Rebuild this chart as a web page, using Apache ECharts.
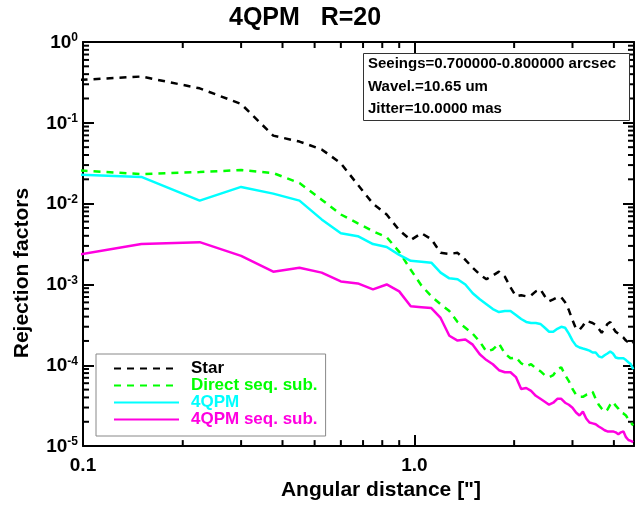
<!DOCTYPE html>
<html>
<head>
<meta charset="utf-8">
<script src="https://cdn.jsdelivr.net/npm/echarts@6/dist/echarts.min.js"></script>
<style>html,body{margin:0;padding:0;background:#fff;}#c{width:636px;height:506px;}</style>
</head>
<body>
<div id="c"></div>
<script>
// ---- data ----
const xVals = [0.075,0.15,0.225,0.3,0.375,0.45,0.525,0.6,0.675,0.75,0.825,0.9,0.975,1.05,1.125,1.2,1.275,1.35,1.425,1.5,1.575,1.65,1.725,1.8,1.875,1.95,2.025,2.1,2.175,2.25,2.325,2.4,2.475,2.55,2.625,2.7,2.775,2.85,2.925,3.0,3.075,3.15,3.225,3.3,3.375,3.45,3.525,3.6,3.675,3.75,3.825,3.9,3.975,4.05,4.125,4.2,4.275,4.35,4.425,4.5,4.575];
const star = [0.32,0.374,0.267,0.171,0.0694,0.0586,0.0469,0.0316,0.0171,0.0100,0.00734,0.00469,0.00354,0.00431,0.00364,0.00246,0.00239,0.00246,0.00202,0.00161,0.00133,0.00116,0.00129,0.00144,0.00125,0.000919,0.000714,0.000734,0.000714,0.000734,0.000821,0.000869,0.000714,0.00062,0.000656,0.000694,0.000694,0.000603,0.000482,0.000364,0.000283,0.000275,0.000308,0.000354,0.000344,0.000334,0.000316,0.000283,0.000253,0.000283,0.000325,0.000344,0.000291,0.00026,0.000246,0.000232,0.00022,0.000202,0.000191,0.00018,0.000191];
const directSeq = [0.0275,0.0232,0.0246,0.026,0.0239,0.018,0.0112,0.00734,0.0057,0.00456,0.00385,0.00253,0.00152,0.000972,0.000714,0.00057,0.000469,0.000344,0.000291,0.000246,0.000196,0.000148,0.000157,0.000186,0.00014,0.000122,0.000125,0.000106,0.0000972,0.000103,0.0000919,0.0000845,0.0000755,0.0000714,0.0000755,0.0000894,0.0000945,0.0000755,0.0000638,0.000051,0.0000431,0.0000407,0.0000407,0.0000431,0.0000443,0.0000469,0.0000385,0.0000325,0.0000291,0.0000267,0.0000283,0.0000325,0.0000354,0.0000316,0.0000291,0.000026,0.0000253,0.0000239,0.0000214,0.0000196,0.000018];
const qpm = [0.0236,0.0214,0.0109,0.0161,0.0133,0.0109,0.00638,0.00431,0.00396,0.00316,0.00291,0.00232,0.00196,0.00191,0.00186,0.0014,0.00119,0.00116,0.001,0.000777,0.000656,0.00057,0.000496,0.000456,0.000469,0.000469,0.000419,0.000374,0.000344,0.000334,0.000334,0.000325,0.000291,0.00026,0.00026,0.000283,0.000299,0.000291,0.000246,0.000202,0.000175,0.000166,0.000161,0.000157,0.000152,0.000144,0.000144,0.000129,0.000125,0.000133,0.00014,0.000148,0.00014,0.000125,0.000122,0.000122,0.000122,0.000116,0.000109,0.000103,0.0000894];
const qpmSeq = [0.00196,0.00316,0.00334,0.00226,0.00144,0.00161,0.0014,0.00109,0.00103,0.000869,0.001,0.000821,0.000539,0.000524,0.00051,0.000385,0.000232,0.000202,0.000208,0.00018,0.000137,0.000116,0.000103,0.0000869,0.0000821,0.0000821,0.0000714,0.000051,0.0000524,0.0000482,0.0000419,0.0000385,0.0000354,0.0000325,0.0000344,0.0000385,0.0000385,0.0000344,0.0000325,0.0000299,0.000026,0.0000239,0.0000267,0.000022,0.0000196,0.0000191,0.0000186,0.0000175,0.0000166,0.0000157,0.0000152,0.0000152,0.0000152,0.0000148,0.000014,0.0000148,0.0000152,0.0000129,0.0000119,0.0000116,0.0000112];
const seriesNames = ['Star','Direct seq. sub.','4QPM','4QPM seq. sub.'];
const xTickLabels = {'0.1':'0.1','1':'1.0'};
const xMinorTicks = [0.2,0.3,0.4,0.5,0.6,0.7,0.8,0.9,2,3,4];
const yDecades = [-5,-4,-3,-2,-1];
const infoText = 'Seeings=0.700000-0.800000 arcsec\nWavel.=10.65 um\nJitter=10.0000 mas';
const titleText = '4QPM   R=20';

const FONT = "'Liberation Sans', Arial, Helvetica, sans-serif";
const colors = ['#000000','#00ff00','#00ffff','#ff00e0'];
const dashes = [[7,6],[7,6],'solid','solid'];
const seriesData = [star, directSeq, qpm, qpmSeq];

function pairs(ys){ return xVals.map((x,i)=>[x, ys[i]]); }

const chart = echarts.init(document.getElementById('c'), null, {renderer:'canvas'});

const axisCommonX = {
  type:'log', logBase:10, min:0.1, max:4.6,
  axisLine:{show:true, lineStyle:{color:'#000', width:2}},
  axisTick:{show:true, inside:true, length:11, lineStyle:{color:'#000', width:2}},
  splitLine:{show:false}
};
const axisCommonY = {
  type:'log', logBase:10, min:1e-5, max:1,
  axisLine:{show:true, lineStyle:{color:'#000', width:2}},
  axisTick:{show:true, inside:true, length:11, lineStyle:{color:'#000', width:2}},
  splitLine:{show:false}
};

const option = {
  animation:false,
  backgroundColor:'#fff',
  textStyle:{fontFamily:FONT},
  title:[
    {text:titleText, left:229, top:6, padding:0,
     textStyle:{fontFamily:FONT, fontWeight:'bold', fontSize:25, color:'#000'}},
    {text:infoText, left:363, top:53, padding:[0,14,0,5],
     borderColor:'#333', borderWidth:1, backgroundColor:'#fff',
     textStyle:{fontFamily:FONT, fontWeight:'bold', fontSize:15, lineHeight:22.5, color:'#000'}}
  ],
  grid:{left:83, right:2, top:42, bottom:54, containLabel:false},
  legend:{
    orient:'vertical', left:96, top:354,
    padding:[6,8,8,17], itemGap:0, itemWidth:65, itemHeight:14,
    backgroundColor:'#fff', borderColor:'#888', borderWidth:1,
    itemStyle:{color:'rgba(0,0,0,0)', borderWidth:0, opacity:0},
    textStyle:{fontFamily:FONT, fontWeight:'bold', fontSize:17, lineHeight:16.5, padding:[0,0,0,7]},
    data: seriesNames.map((n,i)=>({name:n, textStyle:{color: i===0 ? '#000' : colors[i]}}))
  },
  xAxis:[
    Object.assign({}, axisCommonX, {
      position:'bottom',
      name:'Angular distance ["]', nameLocation:'middle', nameGap:29,
      nameTextStyle:{fontFamily:FONT, fontWeight:'bold', fontSize:21, color:'#000', padding:[0,0,0,45]},
      axisLabel:{show:true, margin:10, color:'#000', fontFamily:FONT, fontWeight:'bold', fontSize:19,
        showMaxLabel:false,
        formatter:(v)=>{ const k = String(+v.toPrecision(6)); return xTickLabels[k] || ''; }}
    }),
    Object.assign({}, axisCommonX, {position:'top', axisLabel:{show:false}})
  ],
  yAxis:[
    Object.assign({}, axisCommonY, {
      position:'left',
      name:'Rejection factors', nameLocation:'middle', nameGap:50, nameRotate:90,
      nameTextStyle:{fontFamily:FONT, fontWeight:'bold', fontSize:21, color:'#000', padding:[0,58,0,0]},
      axisLabel:{show:true, margin:5, color:'#000',
        formatter:(v)=>{ const e = Math.round(Math.log10(v)); return '{b|10}{s|' + e + '}'; },
        rich:{
          b:{fontFamily:FONT, fontWeight:'bold', fontSize:19, color:'#000', verticalAlign:'bottom', lineHeight:20},
          s:{fontFamily:FONT, fontWeight:'bold', fontSize:12, color:'#000', verticalAlign:'top', lineHeight:12}
        }}
    }),
    Object.assign({}, axisCommonY, {position:'right', axisLabel:{show:false}})
  ],
  series: seriesNames.map((n,i)=>({
    name:n, type:'line', xAxisIndex:0, yAxisIndex:0,
    data: pairs(seriesData[i]),
    symbol:'none', showSymbol:false, clip:true,
    lineStyle:{color:colors[i], width:2.5, type:dashes[i]},
    itemStyle:{color:colors[i]}
  }))
};
chart.setOption(option);

// minor ticks using the axes' own scales
function addMinorTicks(){
  const els = [];
  const yTop = chart.convertToPixel({yAxisIndex:0}, 1);
  const yBot = chart.convertToPixel({yAxisIndex:0}, 1e-5);
  const xL = chart.convertToPixel({xAxisIndex:0}, 0.1);
  const xR = chart.convertToPixel({xAxisIndex:0}, 4.6);
  const L = 6;
  const st = {stroke:'#000', lineWidth:2};
  xMinorTicks.forEach(v=>{
    const px = chart.convertToPixel({xAxisIndex:0}, v);
    els.push({type:'line', shape:{x1:px,y1:yBot,x2:px,y2:yBot-L}, style:st, silent:true});
    els.push({type:'line', shape:{x1:px,y1:yTop,x2:px,y2:yTop+L}, style:st, silent:true});
  });
  yDecades.forEach(d=>{
    for(let m=2;m<=9;m++){
      const v = m*Math.pow(10,d);
      const py = chart.convertToPixel({yAxisIndex:0}, v);
      els.push({type:'line', shape:{x1:xL,y1:py,x2:xL+L,y2:py}, style:st, silent:true});
      els.push({type:'line', shape:{x1:xR,y1:py,x2:xR-L,y2:py}, style:st, silent:true});
    }
  });
  chart.setOption({graphic:{elements:els}});
}
addMinorTicks();
</script>
</body>
</html>
